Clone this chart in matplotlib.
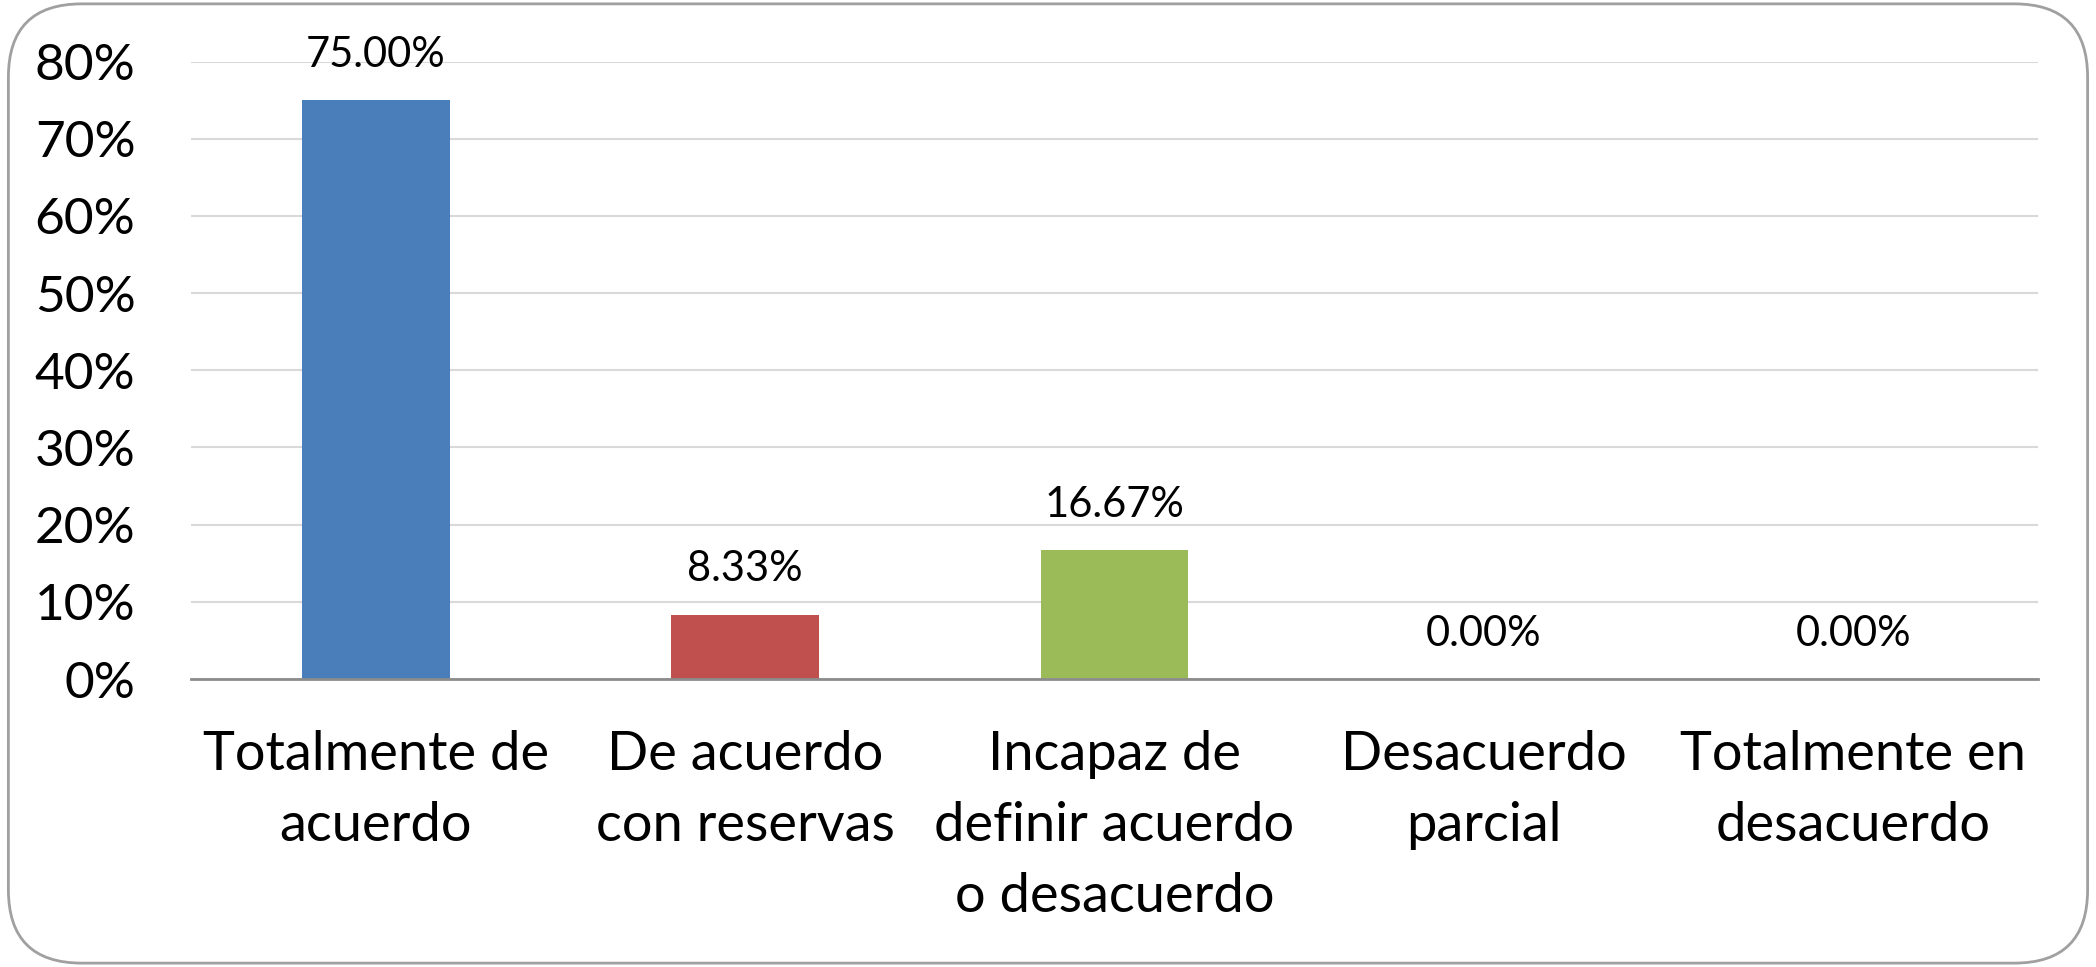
import matplotlib
matplotlib.use('Agg')
import matplotlib.pyplot as plt
from matplotlib.patches import FancyBboxPatch
from matplotlib.ticker import PercentFormatter

# datos de la encuesta
categorias = ['Totalmente de\nacuerdo', 'De acuerdo\ncon reservas',
              'Incapaz de\ndefinir acuerdo\no desacuerdo',
              'Desacuerdo\nparcial', 'Totalmente en\ndesacuerdo']
valores = [0.75, 0.0833, 0.1667, 0.0, 0.0]
etiquetas = ['75.00%', '8.33%', '16.67%', '0.00%', '0.00%']
colores = ['#4A7EBB', '#C0504D', '#9BBB59', '#8064A2', '#4BACC6']
ticks_y = [0, 0.1, 0.2, 0.3, 0.4, 0.5, 0.6, 0.7, 0.8]

plt.rcParams['font.family'] = ['Lato', 'DejaVu Sans']

fig = plt.figure(figsize=(20.96, 9.67), dpi=100)
ax = fig.add_axes([0.0911, 0.2978, 0.8812, 0.6386])

x = list(range(len(categorias)))
ax.bar(x, valores, width=0.4, color=colores, zorder=3)

# etiquetas de datos
for xi, v, t in zip(x, valores, etiquetas):
    ax.annotate(t, (xi, v), xytext=(0, 19), textcoords='offset points',
                ha='center', va='bottom', fontsize=30)

ax.set_xlim(-0.5, len(categorias) - 0.5)
ax.set_ylim(0, 0.8)
ax.set_yticks(ticks_y)
ax.yaxis.set_major_formatter(PercentFormatter(1.0, decimals=0))
ax.grid(axis='y', color='#D9D9D9', linewidth=1.5, zorder=0)

ax.set_xticks(x)
ax.set_xticklabels(categorias, fontsize=39, linespacing=1.55, va='top')
ax.tick_params(axis='x', length=0, pad=37)
ax.tick_params(axis='y', length=0, pad=40, labelsize=37)

for s in ['top', 'right', 'left']:
    ax.spines[s].set_visible(False)
ax.spines['bottom'].set_color('#8C8C8C')
ax.spines['bottom'].set_linewidth(2)
ax.spines['bottom'].set_zorder(4)

# marco redondeado
borde = FancyBboxPatch((0.004, 0.004), 0.992, 0.992,
                       boxstyle='round,pad=0,rounding_size=0.035',
                       transform=fig.transFigure, fill=False,
                       edgecolor='#A0A0A0', linewidth=2, mutation_aspect=2.17)
fig.patches.append(borde)

fig.savefig('out.png', dpi=100)
